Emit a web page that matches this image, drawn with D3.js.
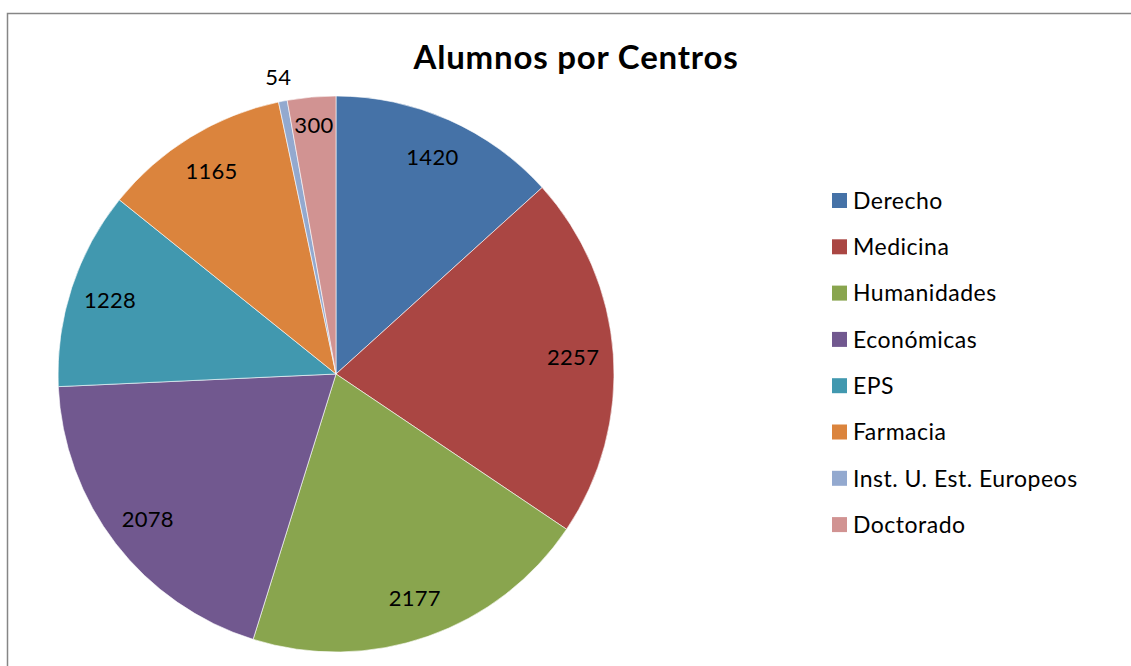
<!DOCTYPE html>
<html>
<head>
<meta charset="utf-8">
<script src="https://cdn.jsdelivr.net/npm/d3@7"></script>
<style>
  html, body { margin: 0; padding: 0; background: #fff; }
  svg text { font-family: Lato, "Open Sans", sans-serif; fill: #000; }
</style>
</head>
<body>
<div id="chart"></div>
<script>
// data
var centros = ["Derecho", "Medicina", "Humanidades", "Económicas", "EPS", "Farmacia", "Inst. U. Est. Europeos", "Doctorado"];
var alumnos = [1420, 2257, 2177, 2078, 1228, 1165, 54, 300];
var colores = ["#4572A7", "#AA4643", "#89A54E", "#71588F", "#4198AF", "#DB843D", "#93A9CF", "#D19392"];

var width = 1131,
    height = 666;

var cx = 336, cy = 374, r = 278;

var svg = d3.select("#chart")
    .append("svg")
    .attr("width", width)
    .attr("height", height);

// chart frame (only left & top edges visible)
svg.append("rect")
    .attr("x", 7.5)
    .attr("y", 13.5)
    .attr("width", width + 20)
    .attr("height", height + 20)
    .attr("fill", "none")
    .attr("stroke", "#868686")
    .attr("stroke-width", 1.5);

svg.append("text")
    .attr("x", 576)
    .attr("y", 69)
    .attr("text-anchor", "middle")
    .style("font-size", "33px")
    .style("font-weight", "bold")
    .style("letter-spacing", "0.8px")
    .text("Alumnos por Centros");

var color = d3.scaleOrdinal().domain(centros).range(colores);

var pie = d3.pie().sort(null).value(function (d) { return d.v; });
var arcs = pie(centros.map(function (c, i) { return {name: c, v: alumnos[i]}; }));
var total = d3.sum(alumnos);

var arc = d3.arc().innerRadius(0).outerRadius(r);

var g = svg.append("g").attr("transform", "translate(" + cx + "," + cy + ")");

g.selectAll("path")
    .data(arcs)
    .enter().append("path")
    .attr("d", arc)
    .attr("fill", function (d) { return color(d.data.name); })
    .attr("stroke", "#fff")
    .attr("stroke-width", 0.6);

// labels: inside for normal slices, pushed out for the tiny ones
function labelRadius(d) {
    var frac = d.data.v / total;
    if (frac < 0.01) return r + 24;
    if (frac < 0.05) return r * 0.9;
    return r * 0.855;
}

g.selectAll("text.lbl")
    .data(arcs)
    .enter().append("text")
    .attr("class", "lbl")
    .attr("transform", function (d) {
        var a = (d.startAngle + d.endAngle) / 2,
            lr = labelRadius(d);
        return "translate(" + (Math.sin(a) * lr) + "," + (-Math.cos(a) * lr) + ")";
    })
    .attr("text-anchor", "middle")
    .attr("dy", "0.36em")
    .style("font-size", "22px")
    .style("letter-spacing", "0.3px")
    .text(function (d) { return d.data.v; });

// legend
var legend = svg.append("g").attr("transform", "translate(832,193)");

var item = legend.selectAll("g")
    .data(centros)
    .enter().append("g")
    .attr("transform", function (d, i) { return "translate(0," + (i * 46.3) + ")"; });

item.append("rect")
    .attr("width", 15)
    .attr("height", 15)
    .attr("fill", function (d) { return color(d); });

item.append("text")
    .attr("x", 21)
    .attr("y", 7.5)
    .attr("dy", "0.36em")
    .style("font-size", "23px")
    .style("letter-spacing", "0.5px")
    .text(function (d) { return d; });
</script>
</body>
</html>
